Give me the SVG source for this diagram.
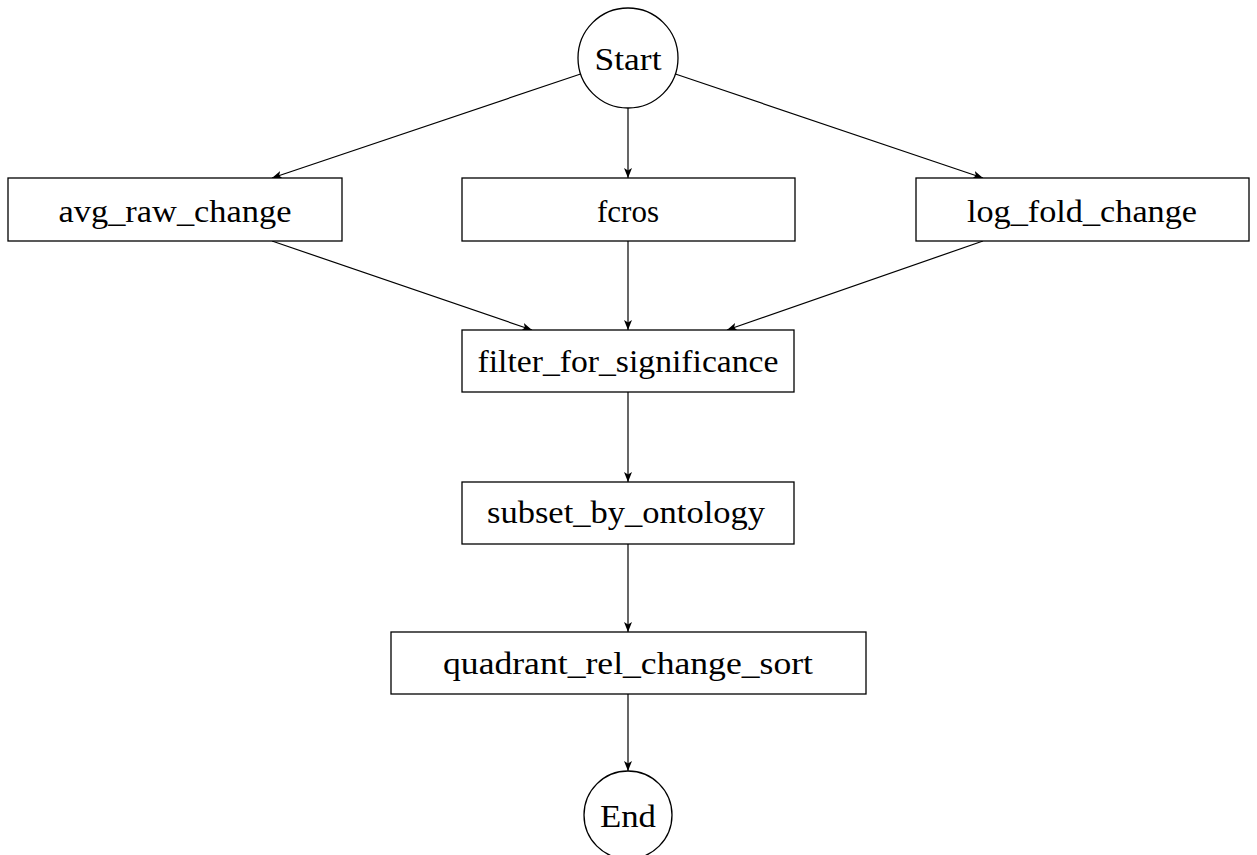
<svg xmlns="http://www.w3.org/2000/svg" width="1257" height="855" viewBox="0 0 1257 855">
<defs>
<style>
.box{fill:#fff;stroke:#000;stroke-width:1.3}
.lbl{font-family:"Liberation Serif","Times New Roman",serif;font-size:31px;fill:#000;text-anchor:middle}
.edge{fill:none;stroke:#000;stroke-width:1.2;marker-end:url(#arr)}
</style>
<marker id="arr" viewBox="0 0 10 8" refX="10" refY="4" markerWidth="10" markerHeight="8" markerUnits="userSpaceOnUse" orient="auto">
<path d="M0,0 L10,4 L0,8 L2.5,4 Z" fill="#000"/>
</marker>
</defs>
<rect width="1257" height="855" fill="#fff"/>
<g id="connectors">
<line class="edge" x1="580.6" y1="74" x2="272" y2="178"/>
<line class="edge" x1="628" y1="108" x2="628" y2="178"/>
<line class="edge" x1="675.4" y1="74" x2="983" y2="178"/>
<line class="edge" x1="272" y1="241" x2="532" y2="330"/>
<line class="edge" x1="628" y1="241" x2="628" y2="330"/>
<line class="edge" x1="983" y1="241" x2="727" y2="330"/>
<line class="edge" x1="628" y1="392" x2="628" y2="482"/>
<line class="edge" x1="628" y1="544" x2="628" y2="632"/>
<line class="edge" x1="628" y1="694" x2="628" y2="771"/>
</g>
<g id="start">
<circle class="box" cx="628" cy="58" r="50"/>
<text class="lbl" x="628" y="70" textLength="67" lengthAdjust="spacingAndGlyphs">Start</text>
</g>
<g id="avg_raw_change">
<rect class="box" x="8" y="178" width="334" height="63"/>
<text class="lbl" x="175" y="222" textLength="233" lengthAdjust="spacingAndGlyphs">avg_raw_change</text>
</g>
<g id="fcros">
<rect class="box" x="462" y="178" width="333" height="63"/>
<text class="lbl" x="628" y="222" textLength="62" lengthAdjust="spacingAndGlyphs">fcros</text>
</g>
<g id="log_fold_change">
<rect class="box" x="916" y="178" width="333" height="63"/>
<text class="lbl" x="1082" y="222" textLength="230" lengthAdjust="spacingAndGlyphs">log_fold_change</text>
</g>
<g id="filter_for_significance">
<rect class="box" x="462" y="330" width="332" height="62"/>
<text class="lbl" x="628" y="372" textLength="301" lengthAdjust="spacingAndGlyphs">filter_for_significance</text>
</g>
<g id="subset_by_ontology">
<rect class="box" x="462" y="482" width="332" height="62"/>
<text class="lbl" x="626" y="523" textLength="278" lengthAdjust="spacingAndGlyphs">subset_by_ontology</text>
</g>
<g id="quadrant_rel_change_sort">
<rect class="box" x="391" y="632" width="475" height="62"/>
<text class="lbl" x="628" y="674" textLength="370" lengthAdjust="spacingAndGlyphs">quadrant_rel_change_sort</text>
</g>
<g id="end">
<circle class="box" cx="628" cy="815" r="44"/>
<text class="lbl" x="628" y="827" textLength="56" lengthAdjust="spacingAndGlyphs">End</text>
</g>
</svg>
